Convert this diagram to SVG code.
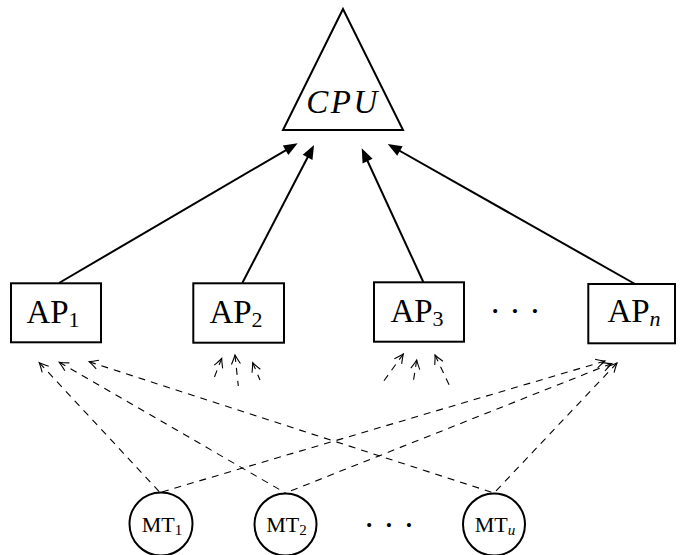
<svg xmlns="http://www.w3.org/2000/svg" width="683" height="555" viewBox="0 0 683 555">
<style>
.shape{fill:#fff;stroke:#000;stroke-width:2}
.lbl{font-family:"Liberation Serif","Times New Roman",serif;font-size:33px;fill:#000}
.sub{font-size:22px}
.mt{font-family:"Liberation Serif","Times New Roman",serif;font-size:22px;fill:#000}
.mts{font-size:15px}
.dots{font-family:"Liberation Serif","Times New Roman",serif;font-size:34px;fill:#000}
.solid{fill:none;stroke:#000;stroke-width:2;marker-end:url(#tri)}
.dash{fill:none;stroke:#000;stroke-width:1.1;stroke-dasharray:7 6;marker-start:url(#open)}
</style>
<defs>
<marker id="tri" markerUnits="userSpaceOnUse" orient="auto" refX="0" refY="0" markerWidth="20" markerHeight="20" overflow="visible">
<path d="M4,0 L-10,-5.5 L-10,5.5 z" fill="#000" stroke="none"/>
</marker>
<marker id="open" markerUnits="userSpaceOnUse" orient="auto-start-reverse" refX="0" refY="0" markerWidth="20" markerHeight="20" overflow="visible">
<path d="M-9,-4.5 Q-3,-1.2 0,0 Q-3,1.2 -9,4.5" fill="none" stroke="#000" stroke-width="1.1" stroke-dasharray="none"/>
</marker>
</defs>

<g id="connectors">
<line class="solid" x1="59" y1="283" x2="294.2" y2="145.3"/>
<line class="solid" x1="242.3" y1="283" x2="312.2" y2="148.5"/>
<line class="solid" x1="423.3" y1="282" x2="363.4" y2="152"/>
<line class="solid" x1="635" y1="284" x2="391.2" y2="146"/>

<path class="dash" d="M39.3,362.7 L160,492.5"/>
<path class="dash" d="M59.3,362.3 L285.5,493"/>
<path class="dash" d="M89,361.7 L494,493"/>
<path class="dash" d="M605,361 L160,492.5"/>
<path class="dash" d="M611.7,363.5 L285.5,493"/>
<path class="dash" d="M617,363 L494,493"/>

<path class="dash" d="M221.7,358.3 L213.3,380"/>
<path class="dash" d="M235,355 L238.3,386"/>
<path class="dash" d="M252.7,362.7 L260,380"/>
<path class="dash" d="M403.3,354 L383.3,381.7"/>
<path class="dash" d="M416.7,360 L413.3,381.7"/>
<path class="dash" d="M435,355 L450.7,388.3"/>
</g>

<g id="cpu">
<polygon class="shape" points="343,9 283,130 403,130"/>
<text class="lbl" x="343" y="113" text-anchor="middle" font-style="italic" font-size="34" letter-spacing="2.5">CPU</text>
</g>

<g id="ap1">
<rect class="shape" x="11" y="283.3" width="90" height="59"/>
<text class="lbl" x="53" y="323" text-anchor="middle">AP<tspan class="sub" dy="4">1</tspan></text>
</g>
<g id="ap2">
<rect class="shape" x="193.3" y="283.3" width="90.7" height="59.4"/>
<text class="lbl" x="236" y="323" text-anchor="middle">AP<tspan class="sub" dy="4">2</tspan></text>
</g>
<g id="ap3">
<rect class="shape" x="374" y="282.3" width="90" height="59.4"/>
<text class="lbl" x="417" y="322" text-anchor="middle">AP<tspan class="sub" dy="4">3</tspan></text>
</g>
<g id="apdots">
<text class="dots" x="515" y="322" text-anchor="middle">· · ·</text>
</g>
<g id="apn">
<rect class="shape" x="588.3" y="284" width="86.7" height="59.3"/>
<text class="lbl" x="634" y="322" text-anchor="middle">AP<tspan class="sub" dy="4" font-style="italic">n</tspan></text>
</g>

<g id="mt1">
<circle class="shape" cx="161" cy="524" r="31.5"/>
<text class="mt" x="162" y="531.5" text-anchor="middle">MT<tspan class="mts" dy="3">1</tspan></text>
</g>
<g id="mt2">
<circle class="shape" cx="285.5" cy="524.5" r="31"/>
<text class="mt" x="286.5" y="531.5" text-anchor="middle">MT<tspan class="mts" dy="3">2</tspan></text>
</g>
<g id="mtdots">
<text class="dots" x="389" y="536" text-anchor="middle">· · ·</text>
</g>
<g id="mtu">
<circle class="shape" cx="494" cy="524.5" r="31"/>
<text class="mt" x="495" y="531.5" text-anchor="middle">MT<tspan class="mts" dy="3" font-style="italic">u</tspan></text>
</g>
</svg>
